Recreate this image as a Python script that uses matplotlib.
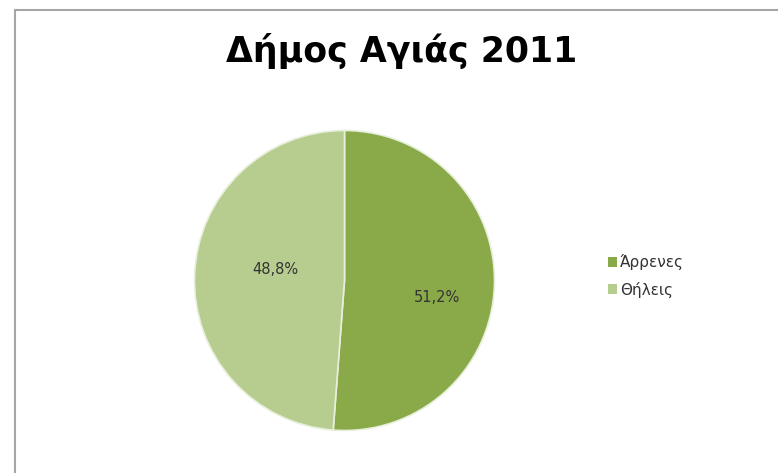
import matplotlib.pyplot as plt
from matplotlib.lines import Line2D

# data
labels = ['Άρρενες', 'Θήλεις']
shares = [51.2, 48.8]
colors = ['#8aaa4a', '#b7cd90']
title = 'Δήμος Αγιάς 2011'

plt.rcParams['font.family'] = ['DejaVu Sans']

fig = plt.figure(figsize=(7.78, 4.73), dpi=100)
fig.patch.set_facecolor('white')

# chart frame (only top and left edges visible in the crop)
fig.add_artist(Line2D([15 / 778, 15 / 778], [0, 1 - 10 / 473], transform=fig.transFigure,
                      color='#a6a6a6', linewidth=1.5))
fig.add_artist(Line2D([15 / 778, 1], [1 - 10 / 473, 1 - 10 / 473], transform=fig.transFigure,
                      color='#a6a6a6', linewidth=1.5))

# square axes of 300x300 px centred on the pie
cx, cy, r = 344.5, 280.5, 150
ax = fig.add_axes([(cx - r) / 778, 1 - (cy + r) / 473, 2 * r / 778, 2 * r / 473])
wedges, _ = ax.pie(shares, colors=colors, startangle=90, counterclock=False,
                   wedgeprops=dict(edgecolor='#e8f0dc', linewidth=1.2))
ax.set_xlim(-1, 1)
ax.set_ylim(-1, 1)
ax.set_aspect('equal')
ax.axis('off')

# percentage labels
label_pos = [(0.617, -0.11), (-0.463, 0.07)]
for (x, y), v in zip(label_pos, shares):
    ax.text(x, y, f'{v:.1f}%'.replace('.', ','), ha='center', va='center',
            fontsize=10.5, color='#333333')

fig.text(402 / 778, 1 - 51 / 473, title, ha='center', va='center',
         fontsize=25, fontweight='bold', color='black')

handles = [plt.Rectangle((0, 0), 1, 1, facecolor=c, edgecolor='none') for c in colors]
fig.legend(handles, labels, loc='center left', bbox_to_anchor=(594 / 778, 1 - 276 / 473),
           frameon=False, fontsize=11, handlelength=0.6, handleheight=0.6,
           handletextpad=0.2, labelspacing=0.75, labelcolor='#333333')

plt.savefig('out.png', dpi=100, facecolor='white')
